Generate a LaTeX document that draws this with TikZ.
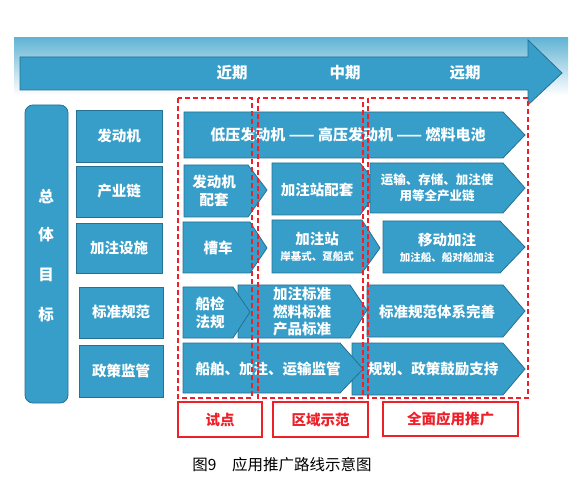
\documentclass[tikz,border=0pt]{standalone}
\usepackage{fontspec}
\newfontfamily\cjk{Noto Sans CJK SC}
\definecolor{bandtop}{RGB}{98,180,212}
\definecolor{bandmid}{RGB}{175,218,234}
\definecolor{bluefill}{RGB}{54,158,200}
\definecolor{blueedge}{RGB}{38,112,146}
\definecolor{zonered}{RGB}{238,32,42}
\begin{document}
\begin{tikzpicture}[x=1pt,y=-1pt,
  blk/.style={fill=bluefill, draw=blueedge, line width=0.8pt},
  lbl/.style={text=white, font=\cjk\bfseries\fontsize{14.5}{17.5}\selectfont, align=center},
  sub/.style={text=white, font=\cjk\bfseries\fontsize{10.5}{12}\selectfont},
  zone/.style={draw=zonered, line width=1.4pt, dash pattern=on 5pt off 3pt},
  tagbox/.style={draw=zonered, line width=1.2pt, text=zonered, font=\cjk\bfseries\fontsize{14.5}{17}\selectfont}]
\useasboundingbox (0,0) rectangle (584,489);
% band and time arrow
\shade[top color=bandtop, middle color=bandmid, bottom color=white] (14,38) rectangle (568,95);
\draw[blk] (20,57) -- (528,57) -- (528,40) -- (562,73) -- (528,105) -- (528,90) -- (20,90) -- cycle;
\node[lbl, font=\cjk\bfseries\fontsize{15.5}{18}\selectfont] (near) at (232,73) {近期};
\node[lbl, font=\cjk\bfseries\fontsize{15.5}{18}\selectfont] (mid) at (345,73) {中期};
\node[lbl, font=\cjk\bfseries\fontsize{15.5}{18}\selectfont] (far) at (465,73) {远期};
% goals column
\draw[blk, rounded corners=8pt] (25,105) rectangle (68,403);
\node[lbl, font=\cjk\bfseries\fontsize{15.5}{18}\selectfont] (g1) at (46,197) {总};
\node[lbl, font=\cjk\bfseries\fontsize{15.5}{18}\selectfont] (g2) at (46,235) {体};
\node[lbl, font=\cjk\bfseries\fontsize{15.5}{18}\selectfont] (g3) at (46,275) {目};
\node[lbl, font=\cjk\bfseries\fontsize{15.5}{18}\selectfont] (g4) at (46,315) {标};
\draw[blk] (76,110) rectangle (162,162);
\node[lbl] (engine) at (119,136) {发动机};
\draw[blk] (76,166) rectangle (162,217);
\node[lbl] (chain) at (119,191) {产业链};
\draw[blk] (76,223) rectangle (162,273);
\node[lbl] (fuel) at (119,248) {加注设施};
\draw[blk] (79,287) rectangle (163,338);
\node[lbl] (norm) at (121,312) {标准规范};
\draw[blk] (79,345) rectangle (163,397);
\node[lbl] (policy) at (121,371) {政策监管};
% row 1
\draw[blk] (184,112) -- (503,112) -- (525,135) -- (503,158) -- (184,158) -- cycle;
\node[lbl, font=\cjk\bfseries\fontsize{15}{18}\selectfont] (r1) at (348,135) {低压发动机 —— 高压发动机 —— 燃料电池};
% row 2
\draw[blk] (184,165) -- (248,165) -- (267,190) -- (248,217) -- (184,217) -- cycle;
\node[lbl] (a1) at (214,191) {发动机\\配套};
\draw[blk] (272,163) -- (360,163) -- (380,188) -- (360,215) -- (272,215) -- cycle;
\node[lbl] (a2) at (317,190) {加注站配套};
\draw[blk] (370,163) -- (503,163) -- (525,188) -- (503,213) -- (370,213) -- cycle;
\node[lbl, font=\cjk\bfseries\fontsize{12.5}{16.5}\selectfont] (a3) at (437,188) {运输、存储、加注使\\用等全产业链};
% row 3
\draw[blk] (183,222) -- (250,222) -- (267,248) -- (250,273) -- (183,273) -- cycle;
\node[lbl] (b1) at (218,248) {槽车};
\draw[blk] (272,220) -- (362,220) -- (380,248) -- (362,273) -- (272,273) -- cycle;
\node[lbl] (b2) at (317,239) {加注站};
\node[sub] (b2s) at (317,257) {岸基式、趸船式};
\draw[blk] (383,221) -- (500,221) -- (525,247) -- (500,273) -- (383,273) -- cycle;
\node[lbl] (b3) at (447,240) {移动加注};
\node[sub] (b3s) at (447,258) {加注船、船对船加注};
% row 4
\draw[blk] (367,285) -- (503,285) -- (525,311) -- (503,337) -- (367,337) -- cycle;
\node[lbl] (c3) at (437,312) {标准规范体系完善};
\draw[blk] (238,285) -- (350,285) -- (367,310) -- (350,338) -- (238,338) -- cycle;
\node[lbl] (c2) at (302,312) {加注标准\\燃料标准\\产品标准};
\draw[blk] (183,287) -- (233,287) -- (250,312) -- (233,338) -- (183,338) -- cycle;
\node[lbl] (c1) at (210,313) {船检\\法规};
% row 5
\draw[blk] (352,343) -- (503,343) -- (525,369) -- (503,395) -- (352,395) -- cycle;
\node[lbl] (d2) at (433,369) {规划、政策鼓励支持};
\draw[blk] (183,343) -- (340,343) -- (363,369) -- (340,393) -- (183,393) -- cycle;
\node[lbl] (d1) at (268,369) {船舶、加注、运输监管};
% stages
\draw[zone] (178,98) rectangle (252,398);
\draw[zone] (258,98) rectangle (363,398);
\draw[zone] (368,98) rectangle (528,398);
\node[tagbox, minimum width=84pt, minimum height=35pt] (pilot) at (220,419.5) {试点};
\node[tagbox, minimum width=95pt, minimum height=35pt] (region) at (320.5,419.5) {区域示范};
\node[tagbox, minimum width=135pt, minimum height=34pt] (wide) at (450.5,419) {全面应用推广};
\node[font=\cjk\fontsize{15.5}{18}\selectfont] (caption) at (282,465) {图9\quad 应用推广路线示意图};
\end{tikzpicture}
\end{document}
